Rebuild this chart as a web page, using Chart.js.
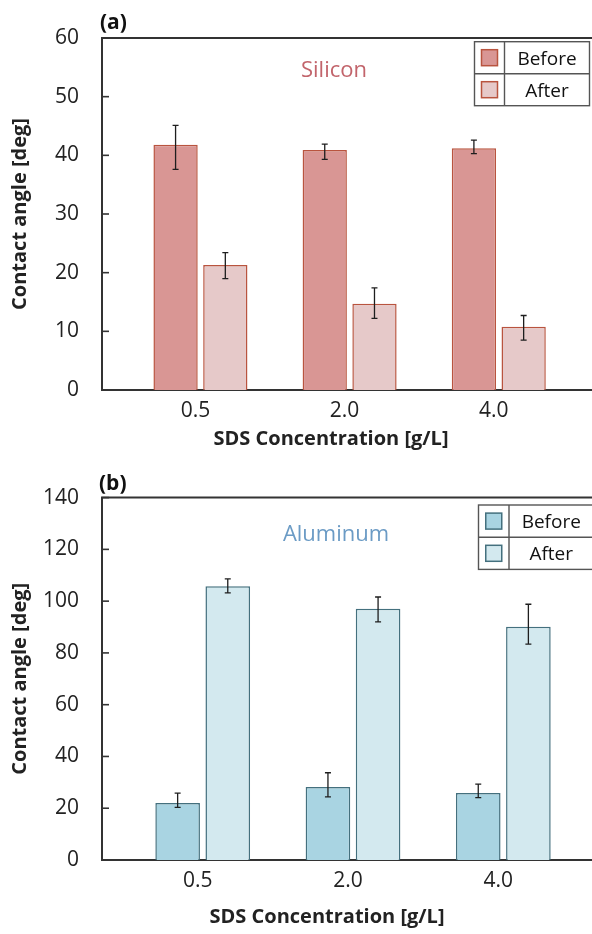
<!DOCTYPE html>
<html>
<head>
<meta charset="utf-8">
<title>Contact angle vs SDS concentration</title>
<script src="https://cdn.jsdelivr.net/npm/chart.js@4.4.1/dist/chart.umd.min.js"></script>
<style>
    html, body { margin: 0; padding: 0; background: #fff; }
    canvas { display: block; }
</style>
</head>
<body>
<canvas id="siliconChart" width="592" height="462"></canvas>
<canvas id="aluminumChart" width="592" height="472"></canvas>
<script>
// =========================================================================
// 1. DATA
// =========================================================================
const categories = ['0.5', '2.0', '4.0'];
const seriesLabels = ['Before', 'After'];

// Silicon, panel (a)
const siliconBefore = [41.8, 40.9, 41.2];
const siliconBeforeErr = [[4.2, 3.3], [1.6, 1.0], [0.9, 1.4]];   // [minus, plus]
const siliconAfter = [21.3, 14.7, 10.8];
const siliconAfterErr = [[2.3, 2.1], [2.5, 2.7], [2.3, 1.9]];

// Aluminum, panel (b)
const aluminumBefore = [22.0, 28.2, 25.9];
const aluminumBeforeErr = [[1.7, 3.8], [3.8, 5.5], [1.8, 3.4]];
const aluminumAfter = [105.8, 97.1, 90.1];
const aluminumAfterErr = [[2.6, 2.8], [5.1, 4.5], [6.7, 8.7]];

const FONT = "'Open Sans', 'Noto Sans', sans-serif";
const AXIS_COLOR = '#333';
const TEXT_COLOR = '#222';

// bars sit on a linear index axis: category i -> x = i + 1
function toPoints(values) {
    return values.map((v, i) => ({ x: i + 1, y: v }));
}

// =========================================================================
// 2. PLUGINS
// =========================================================================

// Error bars from dataset.errorBars ([minus, plus] per point)
const errorBarPlugin = {
    id: 'errorBars',
    afterDatasetsDraw(chart) {
        const { ctx } = chart;
        const yScale = chart.scales.y;
        ctx.save();
        ctx.strokeStyle = '#1e1e1e';
        ctx.lineWidth = 1.3;
        chart.data.datasets.forEach((ds, di) => {
            const meta = chart.getDatasetMeta(di);
            meta.data.forEach((bar, j) => {
                const err = ds.errorBars[j];
                const v = ds.data[j].y;
                const yLow = yScale.getPixelForValue(v - err[0]);
                const yHigh = yScale.getPixelForValue(v + err[1]);
                ctx.beginPath();
                ctx.moveTo(bar.x, yLow); ctx.lineTo(bar.x, yHigh);
                ctx.moveTo(bar.x - 3, yLow); ctx.lineTo(bar.x + 3, yLow);
                ctx.moveTo(bar.x - 3, yHigh); ctx.lineTo(bar.x + 3, yHigh);
                ctx.stroke();
            });
        });
        ctx.restore();
    }
};

// Frame top line, inward ticks, panel letter, material name, x title, boxed legend
const panelPlugin = {
    id: 'panelDecor',
    afterDraw(chart, args, opts) {
        const { ctx, chartArea } = chart;
        const yScale = chart.scales.y;
        ctx.save();

        // top edge of the plot frame
        ctx.strokeStyle = AXIS_COLOR;
        ctx.lineWidth = 2;
        ctx.beginPath();
        ctx.moveTo(chartArea.left - 1, chartArea.top);
        ctx.lineTo(chartArea.right, chartArea.top);
        ctx.stroke();

        // inward tick marks on the y axis
        ctx.lineWidth = 1.6;
        yScale.ticks.forEach(t => {
            const y = yScale.getPixelForValue(t.value);
            ctx.beginPath();
            ctx.moveTo(chartArea.left, y);
            ctx.lineTo(chartArea.left + 7, y);
            ctx.stroke();
        });

        // panel letter
        ctx.fillStyle = '#111';
        ctx.font = `bold 21px ${FONT}`;
        ctx.textAlign = 'left';
        ctx.textBaseline = 'alphabetic';
        ctx.fillText(opts.letter, opts.letterX, opts.letterY);

        // material name
        ctx.fillStyle = opts.materialColor;
        ctx.font = `22px ${FONT}`;
        ctx.textAlign = 'center';
        ctx.fillText(opts.material, opts.materialX, opts.materialY);

        // x axis title
        ctx.fillStyle = TEXT_COLOR;
        ctx.font = `bold 20px ${FONT}`;
        ctx.fillText('SDS Concentration [g/L]', opts.xTitleX, opts.xTitleY);

        // boxed legend
        const lg = opts.legend;
        const h = lg.rowHeight * chart.data.datasets.length;
        ctx.strokeStyle = '#555';
        ctx.lineWidth = 1.4;
        ctx.strokeRect(lg.left, lg.top, lg.width, h);
        ctx.beginPath();
        ctx.moveTo(lg.left + lg.keyWidth, lg.top);
        ctx.lineTo(lg.left + lg.keyWidth, lg.top + h);
        for (let r = 1; r < chart.data.datasets.length; r++) {
            ctx.moveTo(lg.left, lg.top + r * lg.rowHeight);
            ctx.lineTo(lg.left + lg.width, lg.top + r * lg.rowHeight);
        }
        ctx.stroke();

        ctx.font = `19px ${FONT}`;
        chart.data.datasets.forEach((ds, r) => {
            const rowTop = lg.top + r * lg.rowHeight;
            const sx = lg.left + (lg.keyWidth - 16) / 2;
            const sy = rowTop + (lg.rowHeight - 16) / 2;
            ctx.fillStyle = ds.backgroundColor;
            ctx.fillRect(sx, sy, 16, 16);
            ctx.strokeStyle = ds.borderColor;
            ctx.lineWidth = 1.5;
            ctx.strokeRect(sx, sy, 16, 16);
            ctx.fillStyle = '#111';
            ctx.fillText(ds.label, lg.left + lg.keyWidth + (lg.width - lg.keyWidth) / 2,
                rowTop + lg.rowHeight / 2 + 7);
        });

        ctx.restore();
    }
};

// =========================================================================
// 3. CHART BUILDER
// =========================================================================
function makeChart(canvasId, cfg) {
    const ctx = document.getElementById(canvasId).getContext('2d');
    return new Chart(ctx, {
        type: 'bar',
        data: {
            datasets: [
                {
                    label: seriesLabels[0],
                    data: toPoints(cfg.before),
                    errorBars: cfg.beforeErr,
                    backgroundColor: cfg.beforeFill,
                    borderColor: cfg.border,
                    borderWidth: 1.5
                },
                {
                    label: seriesLabels[1],
                    data: toPoints(cfg.after),
                    errorBars: cfg.afterErr,
                    backgroundColor: cfg.afterFill,
                    borderColor: cfg.border,
                    borderWidth: 1.5
                }
            ]
        },
        options: {
            responsive: false,
            animation: false,
            categoryPercentage: 0.667,
            barPercentage: 0.89,
            layout: { padding: { top: cfg.plotTop, left: 0, right: 0, bottom: 0 } },
            plugins: {
                legend: { display: false },
                tooltip: { enabled: false },
                panelDecor: cfg.decor
            },
            scales: {
                x: {
                    type: 'linear',
                    min: cfg.xMin,
                    max: cfg.xMax,
                    offset: false,
                    z: 1,
                    grid: { display: false, drawTicks: false, offset: false },
                    border: { color: AXIS_COLOR, width: 2 },
                    afterBuildTicks: scale => {
                        scale.ticks = categories.map((c, i) => ({ value: i + 1 }));
                    },
                    afterFit: scale => { scale.height = cfg.xAxisHeight; },
                    ticks: {
                        callback: value => categories[value - 1],
                        font: { family: FONT, size: 21 },
                        color: TEXT_COLOR,
                        padding: 8,
                        labelOffset: -5,
                        maxRotation: 0
                    }
                },
                y: {
                    min: 0,
                    max: cfg.yMax,
                    grid: { display: false, drawTicks: false },
                    border: { color: AXIS_COLOR, width: 2 },
                    afterFit: scale => { scale.width = 102; },
                    ticks: {
                        stepSize: cfg.yStep,
                        font: { family: FONT, size: 21 },
                        color: TEXT_COLOR,
                        padding: 23
                    },
                    title: {
                        display: true,
                        text: 'Contact angle [deg]',
                        font: { family: FONT, size: 20, weight: 'bold' },
                        color: TEXT_COLOR,
                        padding: { top: 8, bottom: 0 }
                    }
                }
            }
        },
        plugins: [errorBarPlugin, panelPlugin]
    });
}

// =========================================================================
// 4. MAIN
// =========================================================================
document.addEventListener('DOMContentLoaded', function () {

    // Panel (a) Silicon
    makeChart('siliconChart', {
        before: siliconBefore, beforeErr: siliconBeforeErr,
        after: siliconAfter, afterErr: siliconAfterErr,
        beforeFill: '#d99694', afterFill: '#e6c9c9', border: '#b9543f',
        yMax: 60, yStep: 10,
        xMin: 0.34, xMax: 3.625,
        plotTop: 38, xAxisHeight: 72,
        decor: {
            letter: '(a)', letterX: 100, letterY: 29,
            material: 'Silicon', materialColor: '#c2646b', materialX: 334, materialY: 77,
            xTitleX: 331, xTitleY: 445,
            legend: { left: 474.5, top: 41.7, width: 115, rowHeight: 32, keyWidth: 30 }
        }
    });

    // Panel (b) Aluminum
    makeChart('aluminumChart', {
        before: aluminumBefore, beforeErr: aluminumBeforeErr,
        after: aluminumAfter, afterErr: aluminumAfterErr,
        beforeFill: '#a9d4e2', afterFill: '#d3e9ef', border: '#44707e',
        yMax: 140, yStep: 20,
        xMin: 0.33, xMax: 3.59,
        plotTop: 33, xAxisHeight: 74,
        decor: {
            letter: '(b)', letterX: 99, letterY: 27.5,
            material: 'Aluminum', materialColor: '#6b9bc5', materialX: 336, materialY: 78.5,
            xTitleX: 327, xTitleY: 460.5,
            legend: { left: 478.5, top: 43, width: 115, rowHeight: 32.2, keyWidth: 30.5 }
        }
    });
});
</script>
</body>
</html>
